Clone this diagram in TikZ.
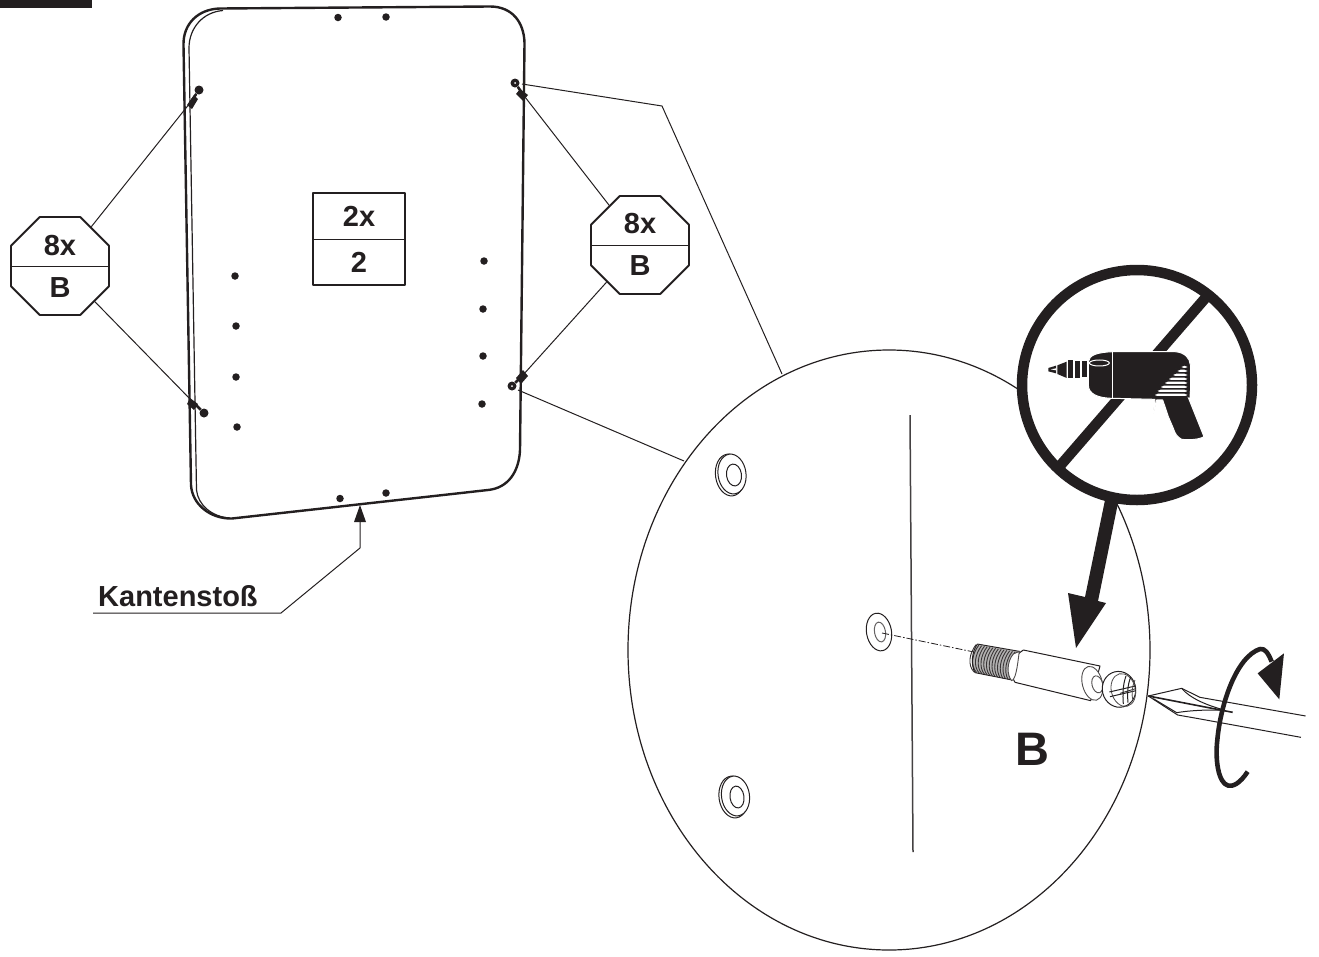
\documentclass[tikz,border=0pt]{standalone}
\usepackage{fontspec}
\setmainfont{Liberation Sans}
\usetikzlibrary{shapes.geometric,arrows.meta}
\definecolor{ink}{HTML}{231F20}
\tikzset{
  leader/.style={draw=ink,line width=1pt},
  octa/.style={regular polygon,regular polygon sides=8,minimum size=106pt,inner sep=0pt,draw=ink,line width=1.9pt,fill=white},
  lab/.style={font=\bfseries\fontsize{29}{29}\selectfont,text=ink,inner sep=0pt},
  hole/.style={circle,fill=ink,minimum size=7.5pt,inner sep=0pt},
  pin/.style={circle,fill=ink,minimum size=9pt,inner sep=0pt},
  washer/.style={draw=ink,line width=1pt,fill=white},
}
\begin{document}
\begin{tikzpicture}[x=1pt,y=-1pt,line join=round]
\useasboundingbox (0,0) rectangle (1319,956);
\fill[ink] (0,0) rectangle (92,8);

% panel
\draw[ink,line width=2.4pt] (220,8.5) -- (490,6.5) .. controls (512,6.5) and (524,22) .. (524.5,43) -- (520,450) .. controls (519,472) and (508,488) .. (488,490) -- (232,518.5) .. controls (210,519) and (192,504) .. (191,485) -- (183.5,45) .. controls (183,24) and (198,9) .. (220,8.5);
\draw[ink,line width=1.2pt] (223,10.5) .. controls (203,12) and (189,28) .. (189,48) -- (196.5,490) .. controls (198,505) and (212,517) .. (230,518);

% holes
\foreach \n/\x/\y in {a/338/17.5,b/386/17,c/235/276,d/236/326,e/236/377,f/237/427,g/484/261,h/483/309,i/483/356,j/482/404,k/340/498.5,l/386/493}
  \node[hole] (hole\n) at (\x,\y) {};

% pins
\node[pin] (pinA) at (199,90) {};
\node[pin] (pinB) at (204,413) {};
\node[pin] (pinC) at (515,83) {};
\node[pin] (pinD) at (512,386) {};
\coordinate (tipA) at (190,103);
\coordinate (tipB) at (193,402);
\coordinate (tipC) at (525,97);
\coordinate (tipD) at (523,375);
\draw[ink,line width=2.6pt] (pinA) -- (tipA);
\draw[ink,line width=2.6pt] (pinB) -- (tipB);
\draw[ink,line width=2.6pt] (pinC) -- (tipC);
\draw[ink,line width=2.6pt] (pinD) -- (tipD);
\fill[ink] (194,95) -- (187,105) -- (192,109) -- (198,99) -- cycle;
\fill[ink] (190,398) -- (198,404) -- (194,410) -- (187,404) -- cycle;
\fill[ink] (520,89) -- (528,95) -- (523,101) -- (516,94) -- cycle;
\fill[ink] (516,378) -- (523,370) -- (528,376) -- (521,384) -- cycle;
\node[circle,fill=white,minimum size=2pt,inner sep=0pt] at (515,83) {};
\node[circle,fill=white,minimum size=2pt,inner sep=0pt] at (512,386) {};

% octagons and leaders
\node[octa] (octL) at (60,266) {};
\node[octa] (octR) at (640,245) {};
\draw[leader] (octL) -- (tipA);
\draw[leader] (octL) -- (tipB);
\draw[leader] (octR) -- (tipC);
\draw[leader] (octR) -- (tipD);
\draw[ink,line width=1pt] (octL.west) -- (octL.east);
\draw[ink,line width=1pt] (octR.west) -- (octR.east);
\node[lab] (l8x) at (60,246) {8x};
\node[lab] (lB) at (60,288) {B};
\node[lab] (r8x) at (640,224) {8x};
\node[lab] (rB) at (640,266) {B};

% central box
\node[draw=ink,line width=1.6pt,minimum width=92pt,minimum height=92pt,inner sep=0pt] (box) at (359,239) {};
\draw[ink,line width=1pt] (box.west) -- (box.east);
\node[lab] (b2x) at (359,216) {2x};
\node[lab] (b2) at (359,262) {2};

% Kantenstoss
\node[lab,anchor=base west] (kant) at (98,606) {Kantenstoß};
\coordinate (u0) at (93,613);
\coordinate (u1) at (281,613);
\coordinate (u2) at (360,548);
\coordinate (u3) at (360,520);
\coordinate (u4) at (360,505);
\draw[leader] (u0) -- (u1) -- (u2) -- (u3);
\fill[ink] (u4) -- (354,522) -- (366,522) -- cycle;

% detail ellipse
\draw[ink,line width=1.2pt] (889,650) ellipse [x radius=261,y radius=300];
\coordinate (d1) at (782,374);
\coordinate (d2) at (662,106);
\coordinate (d3) at (522,84);
\coordinate (d4) at (684,461);
\coordinate (d5) at (518,390);
\draw[leader] (d1) -- (d2) -- (d3);
\draw[leader] (d4) -- (d5);
\draw[ink!85,line width=1.5pt] (910,415) -- (913,852);

% washers
\draw[washer,rotate around={8:(730,475)}] (730,475) ellipse [x radius=14.5,y radius=21];
\draw[washer,rotate around={8:(732,474)}] (732,474) ellipse [x radius=14,y radius=20];
\draw[washer,rotate around={8:(734,475)}] (734,475) ellipse [x radius=7.5,y radius=11];
\draw[washer,rotate around={8:(733.5,797)}] (733.5,797) ellipse [x radius=14.5,y radius=21];
\draw[washer,rotate around={8:(735.5,796)}] (735.5,796) ellipse [x radius=14,y radius=20];
\draw[washer,rotate around={8:(737,797)}] (737,797) ellipse [x radius=7,y radius=11];
\draw[washer,rotate around={10:(879,632)}] (879,632) ellipse [x radius=12.5,y radius=19];
\draw[washer,draw=ink!70,rotate around={10:(880,632)}] (880,632) ellipse [x radius=5.5,y radius=10];
\draw[ink,line width=0.8pt,dash pattern=on 7pt off 2pt on 1.5pt off 2pt] (882,633) -- (974,652);

% screw
\begin{scope}[shift={(960,630)},x=0.3333pt,y=-0.3333pt]
  \fill[ink!35] (52,42) -- (178,64) -- (156,150) -- (45,128) .. controls (32,105) and (35,65) .. (52,42);
  \foreach \t in {0,0.07,...,1.01}
    \draw[ink!90,line width=0.9pt] ({48+\t*120},{44+\t*22}) .. controls ({28+\t*120},{70+\t*22}) and ({22+\t*120},{105+\t*22}) .. ({42+\t*112},{126+\t*24});
  \draw[ink,line width=0.9pt] (52,42) -- (178,64) -- (165,100) -- (156,150) -- (45,128) .. controls (32,105) and (35,65) .. (52,42);
  \draw[ink,line width=1pt,fill=white] (190,60) -- (420,108) -- (392,212) -- (165,157) .. controls (145,130) and (155,80) .. (190,60) -- cycle;
  \draw[ink!80,line width=0.9pt,fill=white] (160,72) .. controls (140,95) and (140,135) .. (155,152) .. controls (170,150) and (175,80) .. (178,64) -- cycle;
  \draw[ink!80,line width=0.9pt,fill=white,rotate around={14:(397,160)}] (397,160) ellipse [x radius=30,y radius=52];
  \draw[ink!80,line width=0.9pt,fill=white,rotate around={14:(412,163)}] (412,163) ellipse [x radius=16,y radius=26];
  \draw[ink,line width=1pt,fill=white,rotate around={14:(477,178)}] (477,178) ellipse [x radius=50,y radius=54];
  \draw[ink!80,line width=0.8pt,rotate around={14:(490,180)}] (490,180) ellipse [x radius=36,y radius=50];
  \draw[ink,line width=1pt] (448,186) -- (526,168);
  \draw[ink,line width=1pt] (450,200) -- (528,182);
  \draw[ink,line width=0.8pt] (480,190) -- (527,176);
  \draw[ink,line width=1pt] (498,138) .. controls (488,165) and (488,195) .. (490,222);
  \draw[ink,line width=1pt] (512,142) .. controls (502,165) and (502,195) .. (504,218);
  \draw[ink!80,line width=0.8pt] (525,150) .. controls (515,170) and (515,195) .. (518,208);
\end{scope}

\node[font=\bfseries\fontsize{47}{47}\selectfont,text=ink,inner sep=0pt] (bigB) at (1032,749) {B};

% screwdriver
\begin{scope}[shift={(950,620)},x=0.3333pt,y=-0.3333pt]
  \draw[ink,line width=1pt] (595,228) -- (695,205) -- (750,232) -- (1067,288);
  \draw[ink,line width=1pt] (595,228) -- (683,285) -- (740,295) -- (1053,352);
  \draw[ink,line width=1pt] (610,236) -- (680,278) .. controls (730,270) and (770,270) .. (810,270);
  \draw[ink,line width=1pt] (695,205) .. controls (720,235) and (770,255) .. (815,268);
  \draw[ink,line width=1.6pt] (595,228) -- (848,277);
  % turning arrow
  \draw[ink,line width=4.6pt] (893,455) .. controls (870,490) and (850,500) .. (835,497) .. controls (805,490) and (795,420) .. (802,360) .. controls (812,250) and (860,110) .. (930,87) .. controls (945,84) and (955,100) .. (965,125);
  \fill[ink] (1002,100) -- (988,238) -- (923,160) -- cycle;
\end{scope}

% no-drill sign
\draw[ink,line width=10.5pt,fill=white] (1137,385) circle [radius=115];
\draw[ink,line width=10.5pt] (1208,295) -- (1059,467);
\begin{scope}[shift={(1000,260)},x=0.3333pt,y=-0.3333pt]
  % body
  \draw[white,line width=1pt,fill=ink] (265,305) .. controls (268,285) and (290,277) .. (340,275) -- (525,275) .. controls (555,277) and (570,295) .. (571,315) -- (572,390) .. controls (570,398) and (566,402) .. (562,405) -- (612,530) .. controls (600,538) and (570,541) .. (545,538) .. controls (530,530) and (525,520) .. (520,505) -- (505,470) .. controls (500,455) and (495,440) .. (488,420) -- (470,420) -- (460,460) -- (465,418) -- (340,415) .. controls (290,415) and (265,400) .. (265,375) -- cycle;
  % chuck
  \fill[ink] (205,300) -- (220,300) -- (220,354) -- (205,354) -- cycle;
  \fill[ink] (225,302) -- (240,302) -- (240,354) -- (225,354) -- cycle;
  \fill[ink] (245,304) -- (262,304) -- (262,352) -- (245,352) -- cycle;
  \fill[ink] (172,316) -- (200,305) -- (200,354) -- (172,342) -- cycle;
  \fill[ink] (145,324) -- (168,317) -- (168,340) -- (145,334) -- cycle;
  \fill[white] (152,328) -- (168,325) -- (168,331) -- cycle;
  % details
  \draw[white,line width=1pt] (338,275) -- (338,415);
  \draw[white,line width=1pt,fill=ink] (298,309) ellipse [x radius=30,y radius=9];
  \draw[white,line width=1pt] (486,420) -- (486,455);
  % grip ribs
  \foreach \l/\y in {540/321,528/333,515/345,502/357,490/369,478/381,468/393,460/405}
    \draw[ink,line width=1.5pt,fill=white,rounded corners=4pt] (\l,\y-6) -- (567,\y-6) -- (567,\y+6) -- (\l,\y+6) -- cycle;
\end{scope}

% big arrow
\fill[ink] (1105,500) -- (1118,503) -- (1098,601) -- (1106,603) -- (1076,648) -- (1068,593) -- (1085,597) -- cycle;
\end{tikzpicture}
\end{document}
